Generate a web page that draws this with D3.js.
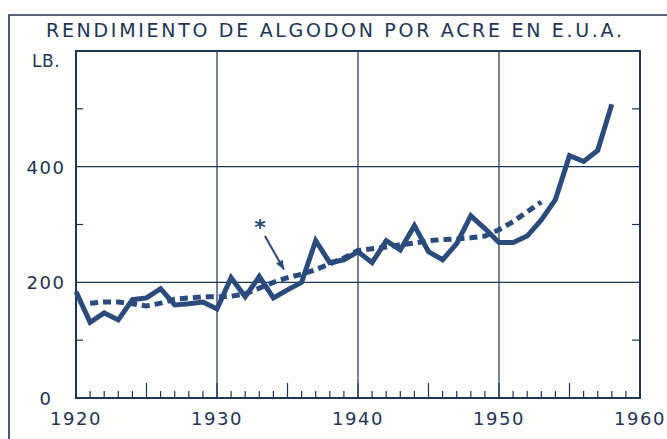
<!DOCTYPE html>
<html>
<head>
<meta charset="utf-8">
<script src="https://cdn.jsdelivr.net/npm/d3@7"></script>
<style>
  html, body { margin: 0; padding: 0; background: #fdfdfb; }
  svg { display: block; }
  text { font-family: "DejaVu Sans", sans-serif; fill: #1d3556; }
  .frame { stroke: #1d3556; stroke-width: 1.6px; fill: none; }
  .grid { stroke: #1d3556; stroke-width: 1.2px; }
  .solid { fill: none; stroke: #2a4b7b; stroke-width: 5px; stroke-linejoin: miter; }
  .dashed { fill: none; stroke: #2a4b7b; stroke-width: 5px; stroke-dasharray: 8 5; }
</style>
</head>
<body>
<svg id="chart"></svg>
<script>
// yield per acre, lb (solid = actual)
var years = d3.range(1920, 1959);
var yieldLb = [184, 131, 147, 135, 170, 173, 189, 161, 163, 166, 154, 208, 175, 210, 173, 187,
  200, 272, 234, 239, 253, 234, 272, 256, 298, 253, 239, 267, 315, 293, 269, 269, 280, 308,
  343, 419, 409, 428, 508];
// dashed trend
var trendYears = d3.range(1921, 1954);
var trendLb = [164, 166, 166, 163, 159, 164, 171, 173, 175, 175, 176, 180, 190, 200, 208, 214,
  222, 232, 242, 255, 258, 261, 265, 268, 272, 274, 275, 277, 280, 291, 305, 322, 339];
var xLabels = [1920, 1930, 1940, 1950, 1960];
var yLabels = [0, 200, 400];
var title = "RENDIMIENTO DE ALGODON POR ACRE EN E.U.A.";

var W = 667, H = 439;
var svg = d3.select("#chart").attr("width", W).attr("height", H);

var x = d3.scaleLinear().domain([1920, 1960]).range([76, 640]);
var y = d3.scaleLinear().domain([0, 600]).range([398, 51]);

// outer frame
svg.append("path").attr("class", "frame")
  .attr("d", "M9," + H + "V15H" + W);

svg.append("text")
  .attr("x", 46).attr("y", 37)
  .attr("font-size", 19)
  .attr("textLength", 576).attr("lengthAdjust", "spacing")
  .text(title);

svg.append("text")
  .attr("x", 32).attr("y", 67)
  .attr("font-size", 17)
  .attr("letter-spacing", 0.5)
  .text("LB.");

// grid
var g = svg.append("g");
g.selectAll(".vgrid").data([1930, 1940, 1950]).enter()
  .append("line").attr("class", "grid")
  .attr("x1", d => x(d)).attr("x2", d => x(d))
  .attr("y1", y(600)).attr("y2", y(0));
g.selectAll(".hgrid").data([200, 400]).enter()
  .append("line").attr("class", "grid")
  .attr("x1", x(1920)).attr("x2", x(1960))
  .attr("y1", d => y(d)).attr("y2", d => y(d));

// plot border
g.append("rect")
  .attr("x", x(1920)).attr("y", y(600))
  .attr("width", x(1960) - x(1920)).attr("height", y(0) - y(600))
  .attr("fill", "none").attr("stroke", "#1d3556").attr("stroke-width", 2);

// year ticks
g.selectAll(".xt").data(d3.range(1921, 1960)).enter()
  .append("line").attr("class", "grid")
  .attr("x1", d => x(d)).attr("x2", d => x(d))
  .attr("y1", y(0))
  .attr("y2", d => y(0) - (d % 5 === 0 ? 15 : 7));

// y minor ticks, both sides
[100, 300, 500].forEach(function (v) {
  g.append("line").attr("class", "grid")
    .attr("x1", x(1920)).attr("x2", x(1920) + 7)
    .attr("y1", y(v)).attr("y2", y(v));
  g.append("line").attr("class", "grid")
    .attr("x1", x(1960)).attr("x2", x(1960) - 8)
    .attr("y1", y(v)).attr("y2", y(v));
});

// labels
svg.selectAll(".xl").data(xLabels).enter()
  .append("text")
  .attr("x", d => x(d)).attr("y", 425)
  .attr("text-anchor", "middle").attr("font-size", 18)
  .attr("letter-spacing", 1.5)
  .text(d => d);
svg.selectAll(".yl").data(yLabels).enter()
  .append("text")
  .attr("x", 46).attr("y", d => y(d) + 7)
  .attr("text-anchor", "middle").attr("font-size", 18)
  .attr("letter-spacing", 1.5)
  .text(d => d);

// series
var line = d3.line().x(d => x(d[0])).y(d => y(d[1]));
svg.append("path").attr("class", "dashed")
  .attr("d", line(trendYears.map((d, i) => [d, trendLb[i]])));
svg.append("path").attr("class", "solid")
  .attr("d", line(years.map((d, i) => [d, yieldLb[i]])));

// asterisk + arrow
svg.append("text")
  .attr("x", x(1933.05)).attr("y", y(303) + 12)
  .attr("text-anchor", "middle").attr("font-size", 22).attr("font-weight", "bold")
  .style("fill", "#2a4b7b")
  .text("*");
var ax0 = x(1933.4), ay0 = y(280), ax1 = x(1934.75), ay1 = y(222);
svg.append("line")
  .attr("x1", ax0).attr("y1", ay0).attr("x2", ax1).attr("y2", ay1)
  .attr("stroke", "#2a4b7b").attr("stroke-width", 2);
var ang = Math.atan2(ay1 - ay0, ax1 - ax0);
var hl = 10, hw = 0.4;
svg.append("path")
  .attr("d", "M" + ax1 + "," + ay1 +
    "L" + (ax1 - hl * Math.cos(ang - hw)) + "," + (ay1 - hl * Math.sin(ang - hw)) +
    "L" + (ax1 - hl * Math.cos(ang + hw)) + "," + (ay1 - hl * Math.sin(ang + hw)) + "Z")
  .attr("fill", "#2a4b7b");
</script>
</body>
</html>
